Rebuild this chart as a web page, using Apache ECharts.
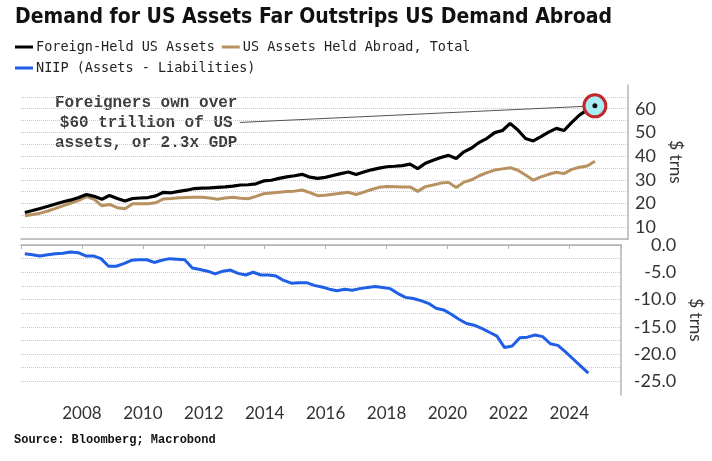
<!DOCTYPE html>
<html>
<head>
<meta charset="utf-8">
<script src="https://cdn.jsdelivr.net/npm/echarts@6/dist/echarts.min.js"></script>
<style>
  html, body { margin: 0; padding: 0; background: #fff; }
  #main { width: 712px; height: 461px; }
</style>
</head>
<body>
<div id="main"></div>
<script>
// quarterly readings, 2006 Q1 .. 2024 Q3 ($ trillions)
var firstQuarter = 2006.125;
var foreignHeld = [16.2, 17.0, 17.9, 18.8, 19.8, 20.7, 21.5, 22.5, 23.8, 23.0, 21.8, 23.4, 22.1, 21.0, 22.1, 22.3,
  22.5, 23.2, 24.7, 24.5, 25.1, 25.6, 26.3, 26.5, 26.6, 26.8, 27.0, 27.3, 27.8, 27.9, 28.3, 29.5,
  29.8, 30.6, 31.2, 31.7, 32.3, 31.1, 30.6, 31.0, 31.8, 32.6, 33.3, 32.2, 33.3, 34.2, 34.9, 35.5,
  35.7, 36.0, 36.6, 34.7, 37.0, 38.2, 39.4, 40.3, 39.0, 41.8, 43.4, 45.8, 47.5, 49.9, 50.8, 53.8,
  51.0, 47.4, 46.4, 48.2, 50.1, 51.7, 50.8, 54.2, 57.3, 59.5, 61.2];
var heldAbroad = [14.8, 15.3, 15.9, 16.8, 17.9, 19.1, 20.2, 21.3, 22.9, 21.7, 19.0, 19.6, 18.2, 17.8, 19.9, 19.9,
  19.9, 20.3, 21.9, 22.1, 22.4, 22.5, 22.6, 22.6, 22.3, 21.8, 22.3, 22.6, 22.2, 22.0, 23.0, 24.1,
  24.4, 24.7, 25.0, 25.2, 25.7, 24.6, 23.3, 23.5, 23.9, 24.3, 24.7, 23.8, 24.8, 25.9, 26.8, 27.2,
  27.1, 27.0, 27.0, 25.1, 27.1, 27.8, 28.6, 28.9, 26.7, 29.0, 30.0, 31.7, 33.0, 34.1, 34.6, 35.1,
  34.0, 32.0, 29.8, 31.2, 32.3, 33.2, 32.6, 34.4, 35.3, 35.8, 37.8];
var niip = [-1.6, -1.8, -2.0, -1.8, -1.6, -1.5, -1.3, -1.4, -2.0, -2.0, -2.5, -3.9, -3.9, -3.4, -2.8, -2.7,
  -2.7, -3.2, -2.8, -2.5, -2.6, -2.7, -4.2, -4.5, -4.8, -5.3, -4.8, -4.6, -5.2, -5.5, -5.0, -5.5,
  -5.5, -5.7, -6.5, -7.0, -6.9, -6.9, -7.4, -7.7, -8.1, -8.4, -8.1, -8.3, -8.0, -7.8, -7.6, -7.8,
  -8.0, -8.9, -9.6, -9.8, -10.2, -10.7, -11.6, -11.9, -12.7, -13.6, -14.4, -14.7, -15.3, -16.0, -16.7, -18.8,
  -18.5, -17.0, -16.9, -16.5, -16.8, -18.1, -18.4, -19.6, -20.9, -22.2, -23.5];
var seriesNames = ['Foreign-Held US Assets', 'US Assets Held Abroad, Total', 'NIIP (Assets - Liabilities)'];
var noteText = ['Foreigners own over', '$60 trillion of US', 'assets, or 2.3x GDP'];

function pairs(vals) {
  return vals.map(function (v, i) { return [firstQuarter + i * 0.25, v]; });
}
var last = pairs(foreignHeld)[foreignHeld.length - 1];

var labelFont = 'Lato, "Open Sans", sans-serif';
var gridCol = '#c8c8c8';
var frameCol = '#b4b4b4';

var chart = echarts.init(document.getElementById('main'));
chart.setOption({
  backgroundColor: '#fff',
  animation: false,
  title: {
    text: 'Demand for US Assets Far Outstrips US Demand Abroad',
    left: 10, top: 2,
    textStyle: { fontFamily: '"DejaVu Sans Condensed", "Liberation Sans", sans-serif', fontWeight: 'bold', fontSize: 21, color: '#111' }
  },
  legend: {
    left: 10, top: 35, width: 470,
    itemWidth: 18, itemHeight: 3, itemGap: 7,
    icon: 'rect',
    data: seriesNames,
    textStyle: { fontFamily: '"DejaVu Sans Mono", monospace', fontSize: 13.5, color: '#222', lineHeight: 14, padding: [0, 0, 0, -2] }
  },
  graphic: [{
    type: 'text', left: 55, top: 93,
    style: {
      text: noteText.join('\n'), textAlign: 'center', width: 182,
      font: 'bold 16px "Liberation Mono", monospace', fill: '#3c3c3c', lineHeight: 20
    }
  }, {
    type: 'text', left: 14, top: 434,
    style: { text: 'Source: Bloomberg; Macrobond', font: 'bold 12px "Liberation Mono", monospace', fill: '#111' }
  }],
  grid: [
    { left: 21, right: 84, top: 85, height: 154 },
    { left: 21, right: 84, top: 245, height: 150 }
  ],
  xAxis: [{
    type: 'value', gridIndex: 0, min: 2006, max: 2025.7, interval: 2,
    axisLine: { show: true, lineStyle: { color: frameCol, width: 1.5 } },
    axisTick: { show: false }, axisLabel: { show: false }, splitLine: { show: false }
  }, {
    type: 'value', gridIndex: 1, min: 2006, max: 2025.7, interval: 2,
    axisLine: { show: true, lineStyle: { color: frameCol, width: 1.5 } },
    axisTick: { show: true, length: 4, lineStyle: { color: frameCol } },
    splitLine: { show: false },
    axisLabel: {
      margin: 10, fontFamily: labelFont, fontSize: 17, color: '#333',
      formatter: function (v) { return (v >= 2008 && v <= 2024 && v % 2 === 0) ? String(v) : ''; }
    }
  }, {
    type: 'value', gridIndex: 1, position: 'top', min: 2006, max: 2025.7,
    axisLine: { show: true, lineStyle: { color: frameCol, width: 1 } },
    axisTick: { show: false }, axisLabel: { show: false }, splitLine: { show: false }
  }],
  yAxis: [{
    type: 'value', gridIndex: 0, position: 'right', min: 5, max: 70, interval: 5,
    name: '$ trns', nameLocation: 'middle', nameGap: 32, nameRotate: -90,
    nameTextStyle: { fontFamily: labelFont, fontSize: 17, color: '#333' },
    axisLine: { show: true, lineStyle: { color: frameCol, width: 1.5 } },
    axisTick: { show: false },
    splitLine: { show: true, showMaxLine: false, lineStyle: { color: gridCol, type: 'dotted' } },
    axisLabel: {
      margin: 7, fontFamily: labelFont, fontSize: 18, color: '#333',
      formatter: function (v) { return (v % 10 === 0 && v >= 10 && v <= 60) ? String(v) : ''; }
    }
  }, {
    type: 'value', gridIndex: 1, position: 'right', min: -27.5, max: 0, interval: 2.5,
    name: '$ trns', nameLocation: 'middle', nameGap: 62, nameRotate: -90,
    nameTextStyle: { fontFamily: labelFont, fontSize: 17, color: '#333' },
    axisLine: { show: true, lineStyle: { color: frameCol, width: 1.5 } },
    axisTick: { show: false },
    splitLine: { show: true, showMaxLine: false, showMinLine: false, lineStyle: { color: gridCol, type: 'dotted' } },
    axisLabel: {
      margin: 55, align: 'right', fontFamily: labelFont, fontSize: 18, color: '#333',
      formatter: function (v) { return (Math.abs(v % 5) < 1e-9) ? v.toFixed(1) : ''; }
    }
  }],
  series: [{
    name: seriesNames[0], type: 'line', xAxisIndex: 0, yAxisIndex: 0,
    data: pairs(foreignHeld), showSymbol: false, z: 4,
    lineStyle: { color: '#000', width: 3.2 }, itemStyle: { color: '#000' },
    markLine: {
      silent: true, symbol: 'none', animation: false,
      lineStyle: { color: '#555', width: 1, type: 'solid' }, label: { show: false },
      data: [[{ coord: [2013.1, 54.2] }, { coord: last }]]
    },
    markPoint: {
      silent: true, animation: false,
      data: [
        { coord: last, symbol: 'circle', symbolSize: 22, itemStyle: { color: '#a6eef4', borderColor: '#c4262d', borderWidth: 3 } },
        { coord: last, symbol: 'circle', symbolSize: 5, itemStyle: { color: '#111' } }
      ],
      label: { show: false }
    }
  }, {
    name: seriesNames[1], type: 'line', xAxisIndex: 0, yAxisIndex: 0,
    data: pairs(heldAbroad), showSymbol: false, z: 3,
    lineStyle: { color: '#b89160', width: 3 }, itemStyle: { color: '#b89160' }
  }, {
    name: seriesNames[2], type: 'line', xAxisIndex: 1, yAxisIndex: 1,
    data: pairs(niip), showSymbol: false,
    lineStyle: { color: '#1f5fe6', width: 3 }, itemStyle: { color: '#1f5fe6' }
  }]
});
</script>
</body>
</html>
